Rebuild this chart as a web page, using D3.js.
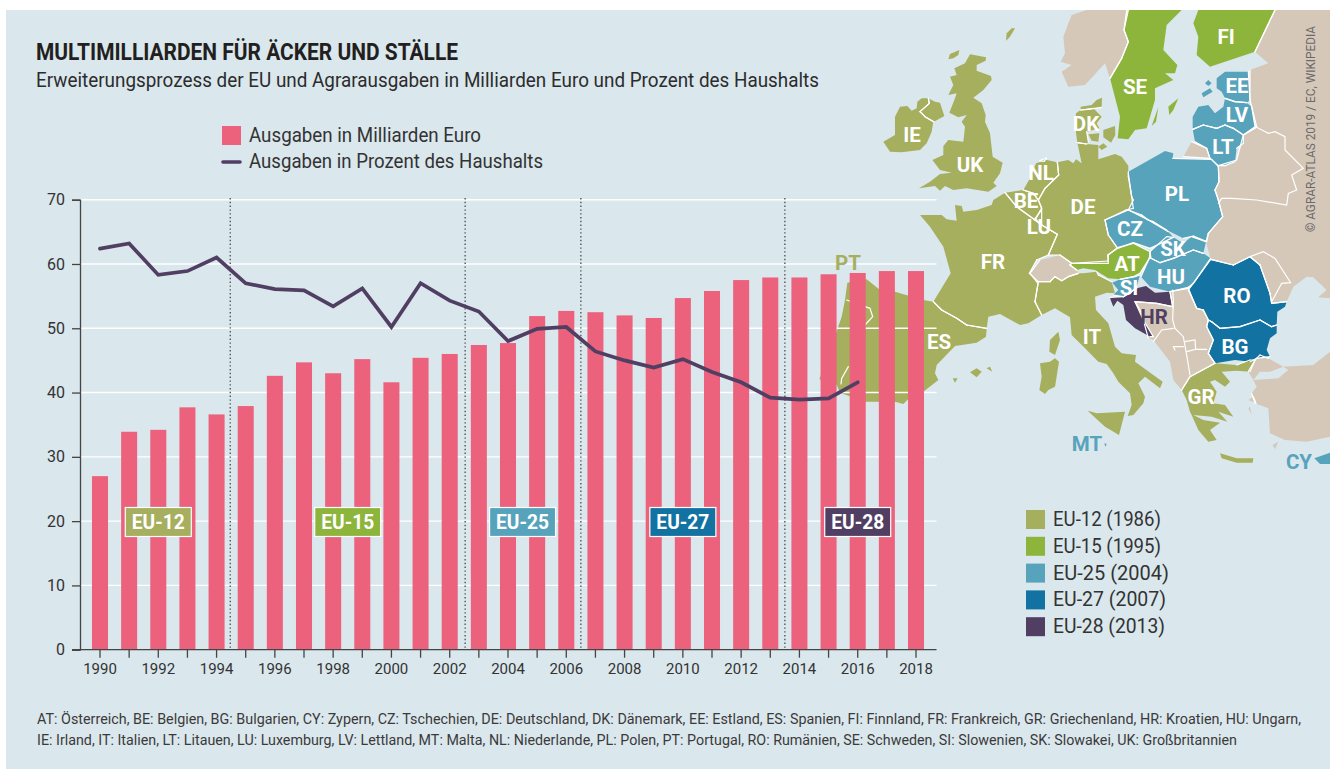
<!DOCTYPE html>
<html>
<head>
<meta charset="utf-8">
<script src="https://cdn.jsdelivr.net/npm/d3@7"></script>
<style>
  html, body { margin: 0; padding: 0; background: #fff; }
  svg { display: block; }
  text { font-family: Roboto, sans-serif; fill: #333; }
</style>
</head>
<body>
<script>
// chart values
var years = d3.range(1990, 2019);
var spending = [27.0, 33.9, 34.2, 37.7, 36.6, 37.9, 42.6, 44.7, 43.0, 45.2, 41.6, 45.4, 46.0, 47.4, 47.7,
                51.9, 52.7, 52.5, 52.0, 51.6, 54.7, 55.8, 57.5, 57.9, 57.9, 58.4, 58.6, 58.9, 58.9];
var percent = [62.4, 63.2, 58.3, 58.9, 61.0, 57.0, 56.1, 55.9, 53.4, 56.2, 50.2, 57.0, 54.3, 52.6, 48.0,
               49.9, 50.2, 46.4, 45.0, 43.9, 45.2, 43.2, 41.6, 39.2, 38.9, 39.1, 41.6];
var yTicks = [0, 10, 20, 30, 40, 50, 60, 70];
var eraBreaks = [1994.47, 2002.53, 2006.5, 2013.5];
var eraNames = ["EU-12", "EU-15", "EU-25", "EU-27", "EU-28"];
var eraCentres = [1992.0, 1998.5, 2004.5, 2010.0, 2016.0];
var eraColors = ["#a5af5d", "#8db53c", "#58a3bc", "#1272a1", "#513f63"];
var eraLegend = ["EU-12 (1986)", "EU-15 (1995)", "EU-25 (2004)", "EU-27 (2007)", "EU-28 (2013)"];
var eraLegendWidth = [108, 108, 116, 113, 112];

var footnotes = [
  "AT: Österreich, BE: Belgien, BG: Bulgarien, CY: Zypern, CZ: Tschechien, DE: Deutschland, DK: Dänemark, EE: Estland, ES: Spanien, FI: Finnland, FR: Frankreich, GR: Griechenland, HR: Kroatien, HU: Ungarn,",
  "IE: Irland, IT: Italien, LT: Litauen, LU: Luxemburg, LV: Lettland, MT: Malta, NL: Niederlande, PL: Polen, PT: Portugal, RO: Rumänien, SE: Schweden, SI: Slowenien, SK: Slowakei, UK: Großbritannien"
];

// basemap outlines, traced in sheet units (3 units = 1 px, origin at the map corner)
var tan = "#d6c8b8";
var landTan = [
  [[800,30],[920,30],[912,90],[925,125],[905,175],[870,235],[855,190],[795,255],[745,260],[725,215],[755,195],[722,185],[735,160],[730,110],[745,70],[755,45]],
  [[1365,30],[1305,155],[1345,190],[1290,210],[1290,300],[1310,380],[1270,405],[1250,480],[1195,497],[1197,545],[1185,570],[1195,600],[1208,650],[1165,700],[1158,725],[1172,778],[1240,795],[1290,770],[1320,795],[1350,880],[1355,910],[1400,905],[1420,860],[1460,830],[1480,832],[1530,880],[1530,30]],
  [[1495,892],[1530,860],[1530,895]],
  [[1115,425],[1160,445],[1170,475],[1090,470]],
  [[630,820],[660,780],[720,765],[755,790],[750,795],[770,810],[775,820],[745,830],[725,842],[705,830],[690,845],[650,845]],
  [[945,905],[1010,910],[1058,920],[1050,875],[1105,865],[1130,925],[1150,930],[1165,960],[1160,980],[1180,1020],[1165,1060],[1185,1090],[1110,1130],[1085,1170],[1060,1140],[1050,1085],[1000,1020],[985,1015],[970,960]],
  [[1530,1055],[1480,1095],[1390,1100],[1405,1110],[1375,1135],[1300,1140],[1310,1160],[1295,1180],[1305,1210],[1345,1225],[1350,1300],[1395,1320],[1460,1325],[1530,1310]],
  [[1305,1080],[1320,1065],[1345,1075],[1390,1100],[1350,1115],[1320,1115],[1300,1140],[1285,1115]],
  [[1285,1200],[1300,1190],[1308,1210]],
  [[1285,1225],[1290,1220],[1295,1245]],
  [[1358,1335],[1375,1325],[1365,1348]]
];
var eu12 = [
  [[558,122],[560,100],[575,85],[585,85],[570,110]],
  [[385,178],[390,162],[418,150],[415,165],[400,175]],
  [[190,425],[225,405],[225,350],[240,320],[262,318],[275,332],[290,325],[292,305],[305,295],[325,295],[328,310],[300,335],[315,350],[340,365],[335,395],[320,430],[300,450],[245,457],[210,455]],
  [[328,310],[325,295],[345,305],[360,308],[373,348],[342,365],[315,350],[300,335]],
  [[450,163],[498,172],[497,182],[470,195],[470,212],[513,228],[515,240],[490,270],[460,293],[485,310],[497,345],[495,365],[510,400],[518,470],[548,488],[540,520],[520,548],[530,558],[505,575],[440,565],[400,570],[375,558],[360,572],[345,558],[297,565],[330,545],[360,522],[395,518],[360,510],[337,480],[370,465],[370,438],[385,420],[430,425],[435,380],[425,365],[440,345],[415,352],[388,338],[405,295],[410,280],[385,285],[400,255],[390,230],[410,225],[403,205],[435,190]],
  [[782,320],[815,315],[830,300],[846,293],[845,322],[805,328],[782,330]],
  [[782,330],[820,325],[845,350],[830,370],[838,385],[800,395],[805,425],[800,432],[772,428],[765,375],[768,340]],
  [[805,403],[838,400],[835,425],[815,422]],
  [[850,390],[885,378],[886,405],[873,428],[850,412]],
  [[835,440],[850,430],[862,440],[845,450]],
  [[772,428],[800,432],[835,435],[835,478],[885,462],[905,470],[925,497],[925,520],[935,590],[940,625],[918,630],[855,660],[865,705],[893,745],[863,765],[865,790],[755,790],[720,765],[685,765],[712,703],[665,675],[645,660],[665,625],[655,600],[675,565],[716,525],[712,487],[745,480],[760,490],[768,478],[785,490]],
  [[610,570],[630,535],[648,490],[680,480],[712,487],[716,525],[675,565],[655,600],[640,580]],
  [[660,482],[680,474],[672,484]],
  [[555,578],[610,570],[640,580],[655,600],[665,625],[645,660],[590,620]],
  [[645,655],[665,630],[665,675]],
  [[300,645],[365,645],[380,658],[410,662],[405,615],[425,618],[430,635],[470,630],[515,615],[520,600],[555,578],[590,620],[645,660],[665,675],[712,703],[685,765],[650,780],[628,820],[655,845],[645,905],[665,945],[625,970],[600,975],[540,942],[505,950],[500,985],[440,975],[410,955],[365,930],[340,905],[392,820],[370,740],[330,680]],
  [[650,845],[690,845],[705,830],[725,842],[745,830],[775,820],[790,820],[830,815],[835,825],[875,845],[885,880],[860,878],[825,890],[828,930],[865,970],[885,1040],[905,1060],[948,1065],[945,1085],[1028,1145],[1020,1165],[975,1130],[955,1150],[975,1190],[970,1210],[940,1245],[923,1248],[935,1215],[930,1180],[895,1145],[880,1120],[860,1092],[835,1085],[795,1045],[755,1005],[750,952],[705,925],[665,945],[645,905],[655,845]],
  [[690,1020],[715,995],[720,1020],[705,1065],[688,1055]],
  [[660,1090],[690,1085],[705,1075],[717,1085],[705,1160],[685,1170],[675,1182],[658,1170],[665,1130]],
  [[803,1232],[830,1240],[915,1235],[897,1305],[855,1280]],
  [[82,848],[140,838],[180,870],[225,875],[310,900],[340,905],[365,930],[410,955],[440,975],[500,985],[498,1010],[470,1028],[405,1038],[350,1095],[345,1120],[355,1140],[310,1175],[262,1200],[250,1212],[225,1205],[135,1205],[60,1178],[48,1150],[-2,1138],[30,1050],[48,1000],[65,950],[75,900]],
  [[450,1117],[470,1105],[485,1115],[470,1132]],
  [[500,1105],[510,1100],[517,1115]],
  [[398,1135],[413,1135],[405,1148]],
  [[1085,1170],[1110,1130],[1185,1090],[1250,1095],[1290,1080],[1305,1080],[1290,1115],[1250,1112],[1205,1115],[1230,1145],[1215,1160],[1185,1140],[1170,1145],[1190,1175],[1180,1210],[1215,1215],[1240,1250],[1195,1235],[1222,1265],[1175,1250],[1120,1245],[1150,1260],[1200,1268],[1170,1290],[1190,1320],[1165,1325],[1135,1290],[1115,1245],[1110,1235],[1100,1200]],
  [[1200,1360],[1250,1375],[1300,1375],[1298,1388],[1250,1388],[1205,1375]]
];
var eu15 = [
  [[925,30],[1085,30],[1040,75],[1030,150],[1072,195],[1065,220],[1035,220],[1060,240],[1005,265],[1005,300],[980,385],[945,390],[925,418],[893,415],[900,350],[870,235],[905,175],[925,125],[912,90]],
  [[1045,320],[1075,295],[1060,330],[1048,345]],
  [[1015,322],[1008,365],[995,378]],
  [[1135,30],[1365,30],[1305,155],[1170,200],[1130,165],[1135,110],[1120,70]],
  [[865,765],[892,743],[940,730],[990,755],[988,775],[960,820],[940,830],[900,838],[865,835],[825,810],[790,805],[770,810],[750,795],[755,790],[865,783]]
];
var eu25 = [
  [[1155,250],[1165,240],[1175,250],[1165,258]],
  [[1145,280],[1170,265],[1178,275],[1150,292]],
  [[1190,235],[1215,215],[1285,215],[1290,300],[1280,308],[1245,305],[1215,295],[1205,275],[1190,265]],
  [[1118,350],[1135,320],[1165,315],[1185,340],[1210,320],[1215,295],[1245,305],[1280,308],[1295,320],[1305,380],[1270,405],[1240,385],[1215,375],[1190,385],[1150,375],[1118,388]],
  [[1118,388],[1150,375],[1190,385],[1215,375],[1240,385],[1270,405],[1270,430],[1250,445],[1245,485],[1215,497],[1195,497],[1170,475],[1160,445],[1125,425]],
  [[925,515],[1035,453],[1060,460],[1058,475],[1175,478],[1195,500],[1197,545],[1185,570],[1195,600],[1208,650],[1165,700],[1160,725],[1120,708],[1090,715],[1070,705],[1040,690],[1000,665],[985,660],[965,645],[925,630],[940,600],[935,590],[925,530]],
  [[855,660],[925,630],[985,660],[1045,695],[1060,712],[990,745],[940,728],[893,745],[865,705]],
  [[990,755],[1040,710],[1060,712],[1090,730],[1115,710],[1158,725],[1150,760],[1120,750],[1060,775],[1020,788],[993,775]],
  [[993,775],[1020,788],[1060,775],[1120,750],[1150,760],[1172,775],[1120,850],[1105,862],[1050,875],[990,860],[963,830],[988,775]],
  [[877,848],[900,838],[945,830],[960,825],[950,860],[930,880],[910,890],[880,885],[895,870]],
  [[853,1330],[860,1332],[856,1340]],
  [[1483,1375],[1530,1358],[1530,1392],[1500,1392]]
];
var eu27 = [
  [[1172,778],[1240,795],[1290,770],[1320,795],[1350,880],[1355,910],[1400,905],[1395,920],[1372,935],[1370,975],[1355,980],[1320,960],[1260,980],[1200,985],[1175,965],[1165,960],[1150,930],[1130,925],[1105,870],[1120,850]],
  [[1165,960],[1175,965],[1200,985],[1260,980],[1320,960],[1355,980],[1370,975],[1370,1000],[1350,1015],[1340,1050],[1350,1070],[1310,1075],[1290,1085],[1245,1080],[1185,1090],[1165,1060],[1180,1020],[1160,980]]
];
var eu28 = [
  [[870,892],[910,890],[950,865],[978,858],[1005,878],[1050,875],[1058,920],[1010,910],[945,905],[960,930],[970,960],[1000,1010],[990,1010],[945,985],[918,960],[910,915],[892,902],[880,920],[872,900]]
];
var borders = [
  [[1270,405],[1310,382],[1345,400],[1365,395],[1395,410],[1395,450],[1450,505],[1415,525],[1430,570],[1405,580],[1400,615],[1310,600],[1235,595],[1205,595],[1195,610]],
  [[1290,770],[1330,755],[1365,775],[1412,848],[1385,850],[1355,905]],
  [[1058,870],[1060,900],[1058,960],[1065,985],[1090,1010],[1100,1065],[1110,1125]],
  [[1095,1025],[1125,1020],[1127,1048],[1100,1055]],
  [[1127,1048],[1160,1048]],
  [[1000,1025],[1025,990],[1060,985]],
  [[1065,1050],[1060,1040],[1090,1040]],
  [[80,900],[150,925],[158,950],[135,975]],
  [[85,1100],[65,1135],[63,1152]]
];

var mapLabels = [
  ["FI", 1226, 36], ["SE", 1135, 86], ["EE", 1237, 85], ["LV", 1237, 114], ["LT", 1223, 146],
  ["DK", 1086, 123], ["IE", 912, 134], ["UK", 970, 164], ["NL", 1041, 172], ["BE", 1026, 200],
  ["LU", 1039, 226], ["DE", 1083, 206], ["PL", 1177, 193], ["CZ", 1130, 228], ["SK", 1173, 248],
  ["AT", 1127, 263], ["FR", 993, 261], ["HU", 1171, 276], ["SI", 1129, 287], ["RO", 1237, 295],
  ["BG", 1235, 346], ["IT", 1092, 336], ["ES", 939, 341], ["GR", 1201, 396]
];
var tintedLabels = [
  ["PT", 848, 262, "#a5af5d"], ["HR", 1154, 316, "#513f63"], ["MT", 1087, 443, "#58a3bc"], ["CY", 1299, 461, "#58a3bc"]
];

var W = 1330, H = 769;
var pink = "#ec627c", plum = "#513f63", grey = "#3c3c3c";

var svg = d3.select("body").append("svg").attr("width", W).attr("height", H);

svg.append("rect").attr("x", 6).attr("y", 10).attr("width", W - 6).attr("height", H - 10).attr("fill", "#dae7ed");

// map
var sx = d3.scaleLinear().domain([0, 3]).range([820, 821]),
    sy = d3.scaleLinear().domain([0, 3]).range([0, 1]);
var outline = d3.line().x(d => sx(d[0])).y(d => sy(d[1]));

var mapG = svg.append("g").attr("class", "map");
var allRings = [];
function land(rings, color) {
  allRings = allRings.concat(rings);
  mapG.append("g").selectAll("path").data(rings).enter().append("path")
      .attr("d", d => outline(d) + "Z")
      .attr("fill", color);
}
land(landTan, tan);
land(eu12, eraColors[0]);
land(eu15, eraColors[1]);
land(eu25, eraColors[2]);
land(eu27, eraColors[3]);
land(eu28, eraColors[4]);

// takeaway: only edges with land on their far side get a white line, coasts stay clean
var inlandEdges = [];
allRings.forEach(function(ring) {
  ring.forEach(function(a, i) {
    var b = ring[(i + 1) % ring.length],
        dx = b[0] - a[0], dy = b[1] - a[1], len = Math.hypot(dx, dy) || 1,
        mx = (a[0] + b[0]) / 2, my = (a[1] + b[1]) / 2,
        nx = -dy / len * 6, ny = dx / len * 6;
    var p = [mx + nx, my + ny], q = [mx - nx, my - ny];
    var hit = allRings.some(r => r !== ring && (d3.polygonContains(r, p) || d3.polygonContains(r, q)));
    if (hit) inlandEdges.push([a, b]);
  });
});
mapG.append("g").selectAll("path").data(inlandEdges.concat(borders)).enter().append("path")
    .attr("d", outline)
    .attr("fill", "none")
    .attr("stroke", "#fff")
    .attr("stroke-width", 1.2)
    .attr("stroke-linecap", "round");

// scales
var x = d3.scaleBand().domain(years).range([85.43, 930.57]).paddingInner(0.45).paddingOuter(0.225),
    xYear = d3.scaleLinear().domain([1990, 2018]).range([100, 916]),
    y = d3.scaleLinear().domain([0, 70]).range([649.7, 199.7]);

// grid goes over the map
svg.append("g").selectAll("line").data(yTicks.slice(1)).enter().append("line")
    .attr("x1", 80).attr("x2", 936.5)
    .attr("y1", d => y(d)).attr("y2", d => y(d))
    .attr("stroke", "#fff").attr("stroke-width", 1.4);

svg.append("g").selectAll("line").data(eraBreaks).enter().append("line")
    .attr("x1", d => xYear(d)).attr("x2", d => xYear(d))
    .attr("y1", 198).attr("y2", y(0))
    .attr("stroke", "#555").attr("stroke-width", 1.4).attr("stroke-dasharray", "1.4 2.4");

svg.append("g").selectAll("rect").data(years).enter().append("rect")
    .attr("x", d => x(d))
    .attr("width", x.bandwidth())
    .attr("y", (d, i) => y(spending[i]))
    .attr("height", (d, i) => y(0) - y(spending[i]))
    .attr("fill", pink);

var line = d3.line().x((d, i) => x(years[i]) + x.bandwidth() / 2).y(d => y(d));
svg.append("path").datum(percent)
    .attr("d", line)
    .attr("fill", "none")
    .attr("stroke", plum)
    .attr("stroke-width", 3.7)
    .attr("stroke-linecap", "round");

// axes
var yAxis = svg.append("g").attr("transform", "translate(80,0)")
    .call(d3.axisLeft(y).tickValues(yTicks).tickSize(8).tickPadding(7));
var xAxis = svg.append("g").attr("transform", `translate(0,${y(0)})`)
    .call(d3.axisBottom(x).tickValues(years).tickSize(8).tickPadding(6)
      .tickFormat(d => d % 2 === 0 ? d : ""));
xAxis.select(".domain").attr("d", "M72,0H936.5");
[yAxis, xAxis].forEach(function(a) {
  a.selectAll(".domain, line").attr("stroke", "#444").attr("stroke-width", 1.3);
  a.selectAll("text").style("font-family", "Roboto, sans-serif").style("font-size", "15px").attr("fill", grey);
});
yAxis.selectAll("text").style("font-size", "16px");

// era badges
var badges = svg.append("g").selectAll("g").data(eraNames).enter().append("g")
    .attr("transform", (d, i) => `translate(${xYear(eraCentres[i])},522)`);
badges.append("rect")
    .attr("x", -33).attr("y", -14.5).attr("width", 66).attr("height", 29)
    .attr("fill", (d, i) => eraColors[i])
    .attr("stroke", "#fff").attr("stroke-width", 1.2);
badges.append("text")
    .text(d => d)
    .attr("text-anchor", "middle").attr("y", 7)
    .style("fill", "#fff").style("font-weight", 700).style("font-size", "19.5px")
    .attr("textLength", 53).attr("lengthAdjust", "spacingAndGlyphs");

// map labels
var lab = svg.append("g");
lab.selectAll("text.w").data(mapLabels).enter().append("text")
    .attr("class", "w").text(d => d[0])
    .attr("x", d => d[1]).attr("y", d => d[2] + 7.5)
    .attr("text-anchor", "middle")
    .style("fill", "#fff").style("font-weight", 700).style("font-size", "20.5px");
lab.selectAll("text.t").data(tintedLabels).enter().append("text")
    .attr("class", "t").text(d => d[0])
    .attr("x", d => d[1]).attr("y", d => d[2] + 7.5)
    .attr("text-anchor", "middle")
    .style("fill", d => d[3]).style("font-weight", 700).style("font-size", "20.5px");

// title
function fitted(txt, px, py, size, len, weight) {
  return svg.append("text").text(txt)
      .attr("x", px).attr("y", py)
      .attr("textLength", len).attr("lengthAdjust", "spacingAndGlyphs")
      .style("font-size", size + "px").style("font-weight", weight || 400);
}
fitted("MULTIMILLIARDEN FÜR ÄCKER UND STÄLLE", 36, 60, 23.5, 422, 700).style("fill", "#231f20");
fitted("Erweiterungsprozess der EU und Agrarausgaben in Milliarden Euro und Prozent des Haushalts", 36, 87, 20.5, 783).style("fill", "#2c2c2c");

// series legend
svg.append("rect").attr("x", 222).attr("y", 126).attr("width", 19).attr("height", 19).attr("fill", pink);
svg.append("line").attr("x1", 223).attr("x2", 240).attr("y1", 162).attr("y2", 162)
    .attr("stroke", plum).attr("stroke-width", 3.6).attr("stroke-linecap", "round");
fitted("Ausgaben in Milliarden Euro", 249, 142, 20.5, 232);
fitted("Ausgaben in Prozent des Haushalts", 249, 168, 20.5, 294);

// era legend
var eraRows = svg.append("g").selectAll("g").data(eraLegend).enter().append("g")
    .attr("transform", (d, i) => `translate(1026,${510 + i * 26.8})`);
eraRows.append("rect").attr("width", 19).attr("height", 19).attr("fill", (d, i) => eraColors[i]);
eraRows.append("text").text(d => d)
    .attr("x", 27).attr("y", 16)
    .attr("textLength", (d, i) => eraLegendWidth[i]).attr("lengthAdjust", "spacingAndGlyphs")
    .style("font-size", "20px");

// footnotes
fitted(footnotes[0], 37, 724, 14.5, 1264).style("fill", "#3a3a3a");
fitted(footnotes[1], 37, 745, 14.5, 1200).style("fill", "#3a3a3a");

// source, rotated
svg.append("text").text("© AGRAR-ATLAS 2019 / EC, WIKIPEDIA")
    .attr("transform", "translate(1315,232) rotate(-90)")
    .attr("textLength", 206).attr("lengthAdjust", "spacingAndGlyphs")
    .style("font-size", "12.5px").style("fill", "#6a6a6a");
</script>
</body>
</html>
